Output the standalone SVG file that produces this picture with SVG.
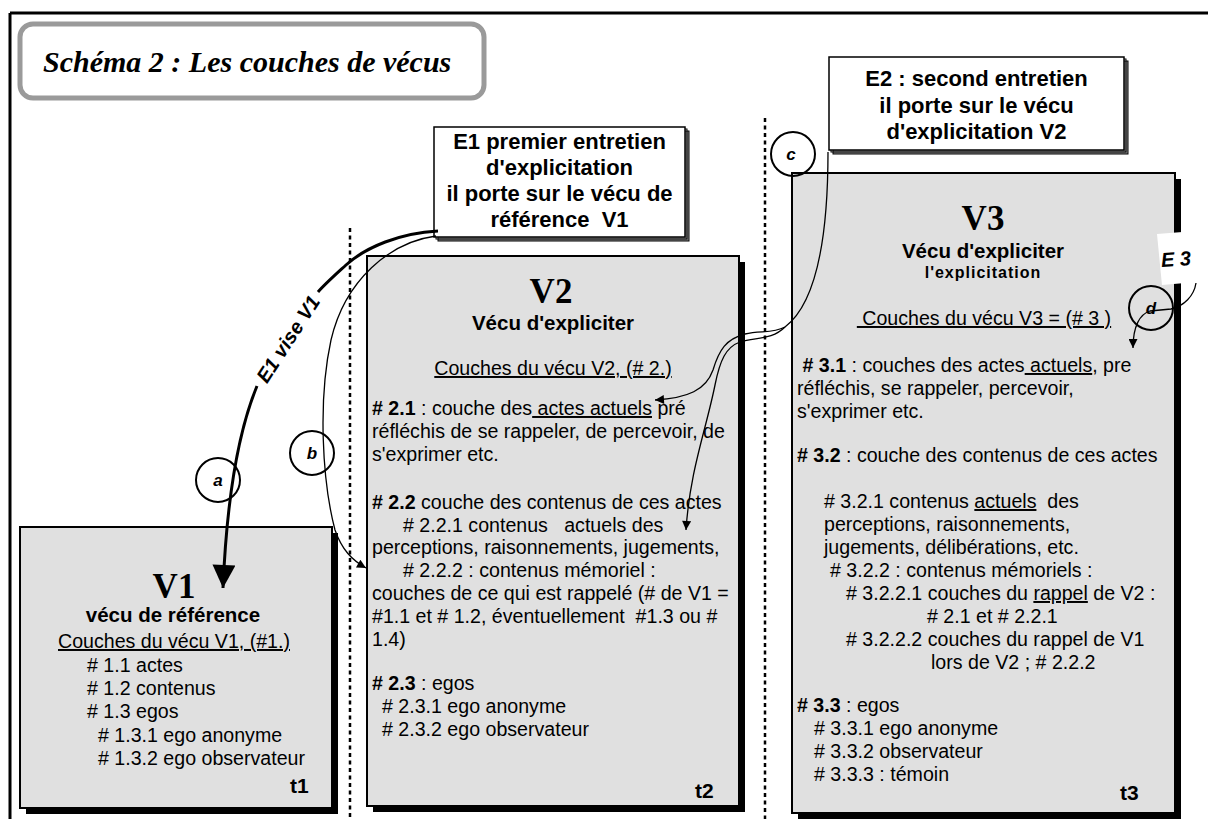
<svg xmlns="http://www.w3.org/2000/svg" width="1208" height="819" viewBox="0 0 1208 819">
<style>
text { white-space: pre; fill: #000; }
.t { font-family: "Liberation Sans", Arial, sans-serif; font-size: 19.6px; }
.b { font-weight: bold; }
.u { text-decoration: underline; }
.hd { font-family: "Liberation Serif", "Times New Roman", serif; font-weight: bold; font-size: 35px; text-anchor: middle; }
.sub { font-family: "Liberation Sans", Arial, sans-serif; font-weight: bold; font-size: 20.5px; text-anchor: middle; }
.small { font-size: 16px; letter-spacing: 1px; }
.et { font-family: "Liberation Sans", Arial, sans-serif; font-weight: bold; font-size: 22px; text-anchor: middle; }
.tm { font-family: "Liberation Sans", Arial, sans-serif; font-weight: bold; font-size: 21px; }
.vbox { fill: #e0e0e0; stroke: #000; stroke-width: 2; }
.shd { fill: #000; }
.ebox { fill: #fff; stroke: #000; stroke-width: 1.5; }
.esh { fill: #888; stroke: #000; stroke-width: 1; }
.circ { fill: none; stroke: #000; stroke-width: 2; }
.lbl { font-family: "Liberation Sans", Arial, sans-serif; font-style: italic; font-weight: bold; font-size: 17px; text-anchor: middle; }
.e3 { font-size: 20px; }
.dot { stroke: #000; stroke-width: 2.5; stroke-dasharray: 4 3.5; fill: none; }
.conn { fill: none; stroke: #000; stroke-width: 1.3; }
.thick { fill: none; stroke: #000; stroke-width: 3; }
</style>
<defs>
<marker id="ah" viewBox="0 0 10 10" refX="10" refY="5" markerWidth="13" markerHeight="9" markerUnits="userSpaceOnUse" orient="auto"><path d="M0,0 L10,5 L0,10 z" fill="#000"/></marker>
<marker id="ahBig" viewBox="0 0 10 10" refX="10" refY="5" markerWidth="31" markerHeight="23" markerUnits="userSpaceOnUse" orient="auto"><path d="M0,0 L10,5 L0,10 z" fill="#000"/></marker>
</defs>

<rect width="1208" height="819" fill="#fff"/>
<g id="frame">
<line x1="10" y1="13" x2="1208" y2="13" stroke="#000" stroke-width="3"/>
<line x1="10" y1="13" x2="10" y2="819" stroke="#000" stroke-width="3"/>
</g>

<g id="title">
<rect x="20" y="24" width="464" height="74" rx="13" fill="#fff" stroke="#9a9a9a" stroke-width="5"/>
<text x="43" y="72" font-family="Liberation Serif, Times New Roman, serif" font-weight="bold" font-style="italic" font-size="30">Schéma 2 : Les couches de vécus</text>
</g>

<g id="separators">
<line class="dot" x1="350" y1="228" x2="350" y2="819"/>
<line class="dot" x1="765" y1="118" x2="765" y2="819"/>
</g>

<g id="E1">
<rect class="esh" x="438" y="131" width="251" height="110"/>
<rect x="436" y="129" width="251" height="110" fill="none" stroke="#000" stroke-width="1"/>
<rect class="ebox" x="434" y="127" width="251" height="110"/>
<text class="et" x="559.5" y="149">E1 premier entretien</text>
<text class="et" x="559.5" y="175">d'explicitation</text>
<text class="et" x="559.5" y="201">il porte sur le vécu de</text>
<text class="et" x="559.5" y="227">référence  V1</text>
</g>

<g id="E2">
<rect class="esh" x="833" y="61" width="295" height="93"/>
<rect x="831" y="59" width="295" height="93" fill="none" stroke="#000" stroke-width="1"/>
<rect class="ebox" x="829" y="57" width="295" height="93"/>
<text class="et" x="976.5" y="86">E2 : second entretien</text>
<text class="et" x="976.5" y="113">il porte sur le vécu</text>
<text class="et" x="976.5" y="139">d'explicitation V2</text>
</g>

<g id="V1">
<rect class="shd" x="26" y="533" width="312" height="281"/>
<rect class="vbox" x="20" y="527" width="312" height="281"/>
<text class="hd" x="174" y="598">V1</text>
<text class="sub" x="173" y="622">vécu de référence</text>
<text class="t u" x="58" y="648">Couches du vécu V1, (#1.)</text>
<text class="t" x="87" y="672"># 1.1 actes</text>
<text class="t" x="87" y="695"># 1.2 contenus</text>
<text class="t" x="87" y="718"># 1.3 egos</text>
<text class="t" x="98" y="742"># 1.3.1 ego anonyme</text>
<text class="t" x="98" y="765"># 1.3.2 ego observateur</text>
<text class="tm" x="290" y="793">t1</text>
</g>

<g id="V2">
<rect class="shd" x="373" y="262" width="372" height="550"/>
<rect class="vbox" x="367" y="256" width="372" height="550"/>
<text class="hd" x="551" y="303">V2</text>
<text class="sub" x="553" y="330">Vécu d'expliciter</text>
<text class="t u" x="553" y="375" text-anchor="middle">Couches du vécu V2, (# 2.)</text>
<text class="t" x="372" y="415"><tspan class="b"># 2.1</tspan> : couche des<tspan class="u"> actes actuels</tspan> pré</text>
<text class="t" x="372" y="438">réfléchis de se rappeler, de percevoir, de</text>
<text class="t" x="372" y="461">s'exprimer etc.</text>
<text class="t" x="372" y="509"><tspan class="b"># 2.2</tspan> couche des contenus de ces actes</text>
<text class="t" x="403" y="532"># 2.2.1 contenus   actuels des</text>
<text class="t" x="372" y="554">perceptions, raisonnements, jugements,</text>
<text class="t" x="403" y="577"># 2.2.2 : contenus mémoriel :</text>
<text class="t" x="372" y="600">couches de ce qui est rappelé (# de V1 =</text>
<text class="t" x="372" y="623">#1.1 et # 1.2, éventuellement  #1.3 ou #</text>
<text class="t" x="372" y="646">1.4)</text>
<text class="t" x="372" y="690"><tspan class="b"># 2.3</tspan> : egos</text>
<text class="t" x="382" y="713"># 2.3.1 ego anonyme</text>
<text class="t" x="382" y="736"># 2.3.2 ego observateur</text>
<text class="tm" x="695" y="798">t2</text>
</g>

<g id="V3">
<rect class="shd" x="798" y="179" width="383" height="640"/>
<rect class="vbox" x="792" y="173" width="383" height="640"/>
<text class="hd" x="983" y="230">V3</text>
<text class="sub" x="983" y="258">Vécu d'expliciter</text>
<text class="sub small" x="983" y="278">l'explicitation</text>
<text class="t u" x="984" y="325" text-anchor="middle"> Couches du vécu V3 = (# 3 )</text>
<text class="t" x="797" y="372"> <tspan class="b"># 3.1</tspan> : couches des actes<tspan class="u"> actuels</tspan>, pre</text>
<text class="t" x="797" y="395">réfléchis, se rappeler, percevoir,</text>
<text class="t" x="797" y="418">s'exprimer etc.</text>
<text class="t" x="797" y="462"><tspan class="b"># 3.2</tspan> : couche des contenus de ces actes</text>
<text class="t" x="824" y="508"># 3.2.1 contenus <tspan class="u">actuels</tspan>  des</text>
<text class="t" x="824" y="531">perceptions, raisonnements,</text>
<text class="t" x="824" y="554">jugements, délibérations, etc.</text>
<text class="t" x="830" y="577"># 3.2.2 : contenus mémoriels :</text>
<text class="t" x="846" y="600"># 3.2.2.1 couches du <tspan class="u">rappel</tspan> de V2 :</text>
<text class="t" x="927" y="623"># 2.1 et # 2.2.1</text>
<text class="t" x="846" y="646"># 3.2.2.2 couches du rappel de V1</text>
<text class="t" x="931" y="669">lors de V2 ; # 2.2.2</text>
<text class="t" x="797" y="712"><tspan class="b"># 3.3</tspan> : egos</text>
<text class="t" x="814" y="735"># 3.3.1 ego anonyme</text>
<text class="t" x="814" y="758"># 3.3.2 observateur</text>
<text class="t" x="814" y="781"># 3.3.3 : témoin</text>
<text class="tm" x="1120" y="800">t3</text>
</g>

<g id="E3">
<polygon points="1157,234 1208,230 1208,281 1162,285" fill="#fff"/>
<text class="lbl e3" x="1176" y="266" transform="rotate(-4 1176 259)">E 3</text>
</g>

<g id="connectors">
<path class="thick" d="M438,231 C400,233 366,247 346,265 C334,276 325,284 318,292"/>
<path class="thick" d="M257,386 C245,415 228,470 223,588" marker-end="url(#ahBig)"/>
<text x="0" y="0" font-family="Liberation Sans, Arial, sans-serif" font-weight="bold" font-style="italic" font-size="20" text-anchor="middle" transform="translate(288,339) rotate(-57) translate(0,7)">E1 vise V1</text>
<circle class="circ" cx="218" cy="480" r="22"/>
<text class="lbl" x="218" y="486">a</text>
<path class="conn" d="M436,236 C390,242 345,280 331,340 C318,400 322,480 335,530 C342,550 352,560 366,568" marker-end="url(#ah)"/>
<circle class="circ" cx="312" cy="453" r="22"/>
<text class="lbl" x="312" y="459">b</text>
<path class="conn" d="M828,152 C828,245 814,305 785,327 C772,334 760,330 745,334 C726,339 719,350 713,370 C706,390 688,398 655,400" marker-end="url(#ah)"/>
<path class="conn" d="M785,327 C772,340 756,337 740,342 C726,347 720,360 715,385 C706,430 690,470 686,530" marker-end="url(#ah)"/>
<circle class="circ" cx="793" cy="154" r="22"/>
<text class="lbl" x="791" y="160">c</text>
<path class="conn" d="M1196,283 C1194,296 1184,306 1171,309 L1150,311 C1140,314 1133,326 1133,348" marker-end="url(#ah)"/>
<circle class="circ" cx="1151" cy="308" r="22"/>
<text class="lbl" x="1151" y="314">d</text>
</g>
</svg>
